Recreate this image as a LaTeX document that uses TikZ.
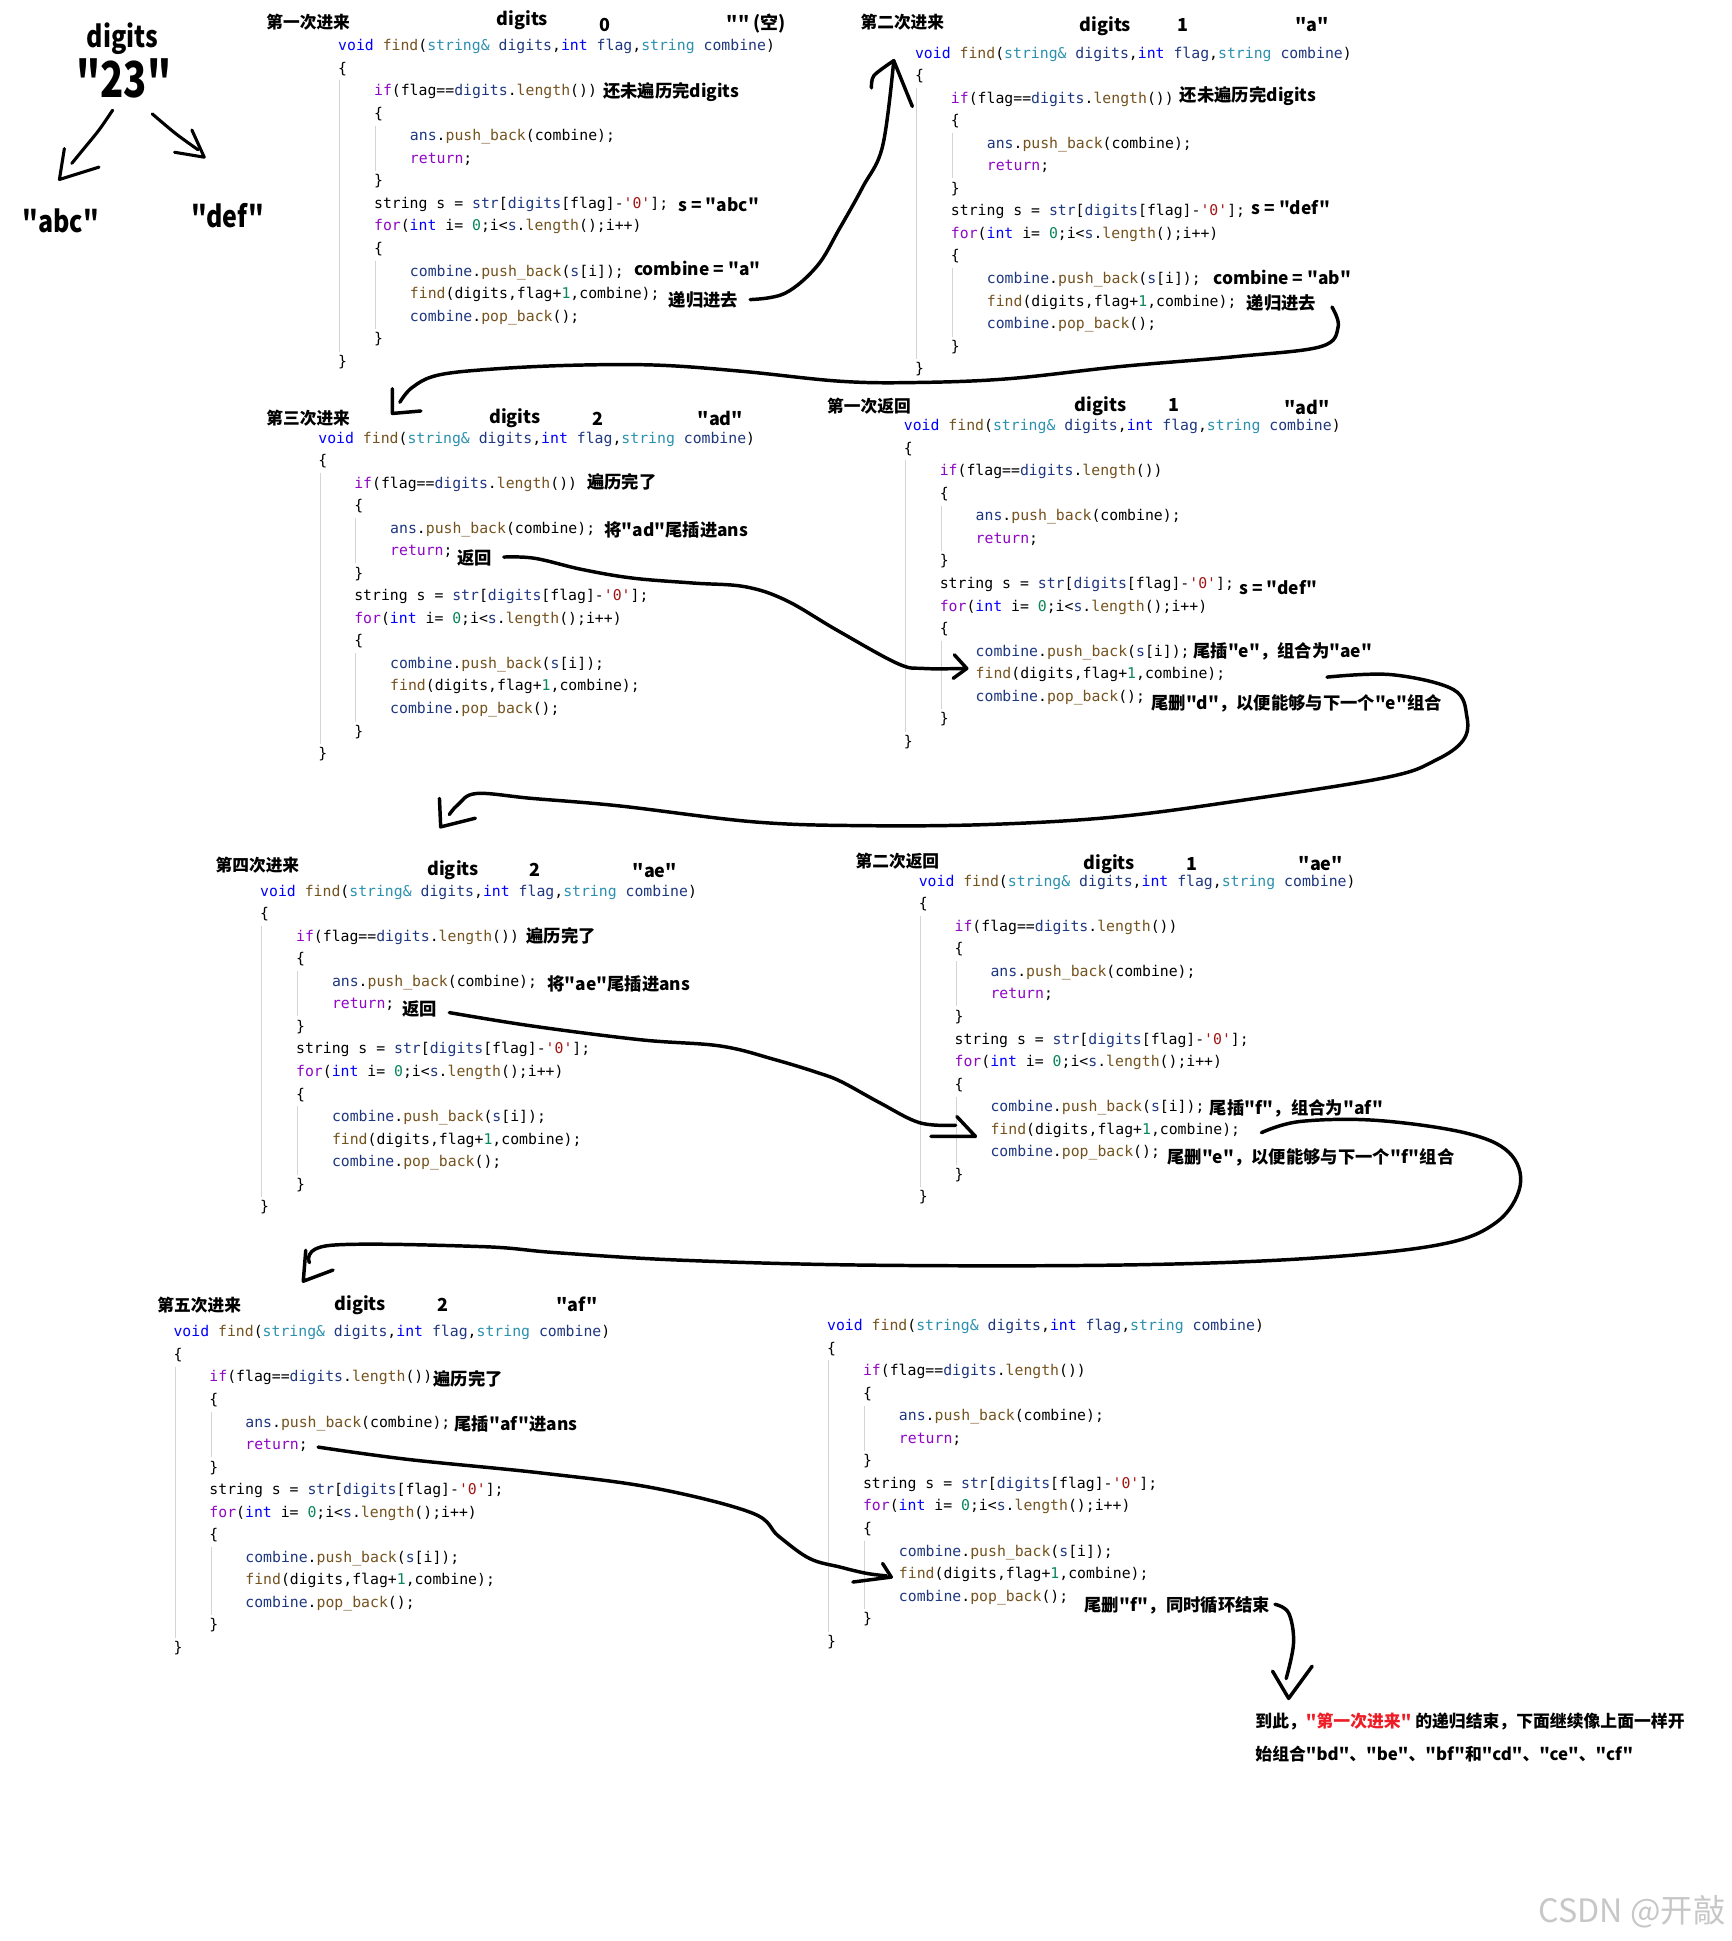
\documentclass[tikz,border=0pt]{standalone}
\usepackage{fontspec}
\setmonofont{DejaVu Sans Mono}[Ligatures=TeXOff]
\newfontfamily\cjk{Noto Sans CJK SC}[Ligatures=TeXOff]
\definecolor{kwcol}{HTML}{0000FF}
\definecolor{fncol}{HTML}{74531F}
\definecolor{tycol}{HTML}{2B91AF}
\definecolor{pmcol}{HTML}{1F377F}
\definecolor{ctcol}{HTML}{8F08C4}
\definecolor{nmcol}{HTML}{098658}
\definecolor{stcol}{HTML}{A31515}
\definecolor{redtxt}{HTML}{EE1C25}
\newcommand\cK[1]{\textcolor{kwcol}{#1}}
\newcommand\cF[1]{\textcolor{fncol}{#1}}
\newcommand\cT[1]{\textcolor{tycol}{#1}}
\newcommand\cP[1]{\textcolor{pmcol}{#1}}
\newcommand\cC[1]{\textcolor{ctcol}{#1}}
\newcommand\cN[1]{\textcolor{nmcol}{#1}}
\newcommand\cS[1]{\textcolor{stcol}{#1}}
\tikzset{
 code/.style={font=\ttfamily\fontsize{11.96}{14}\selectfont, inner sep=0pt, anchor=west, text height=8.5pt, text depth=2.5pt},
 ann/.style={font=\cjk\bfseries\fontsize{14}{16}\selectfont, inner sep=0pt, anchor=west},
 hdr/.style={font=\cjk\bfseries\fontsize{14.5}{17}\selectfont, inner sep=0pt},
 ttl/.style={font=\cjk\bfseries\fontsize{13.5}{16}\selectfont, inner sep=0pt, anchor=west},
 fin/.style={font=\cjk\bfseries\fontsize{13.6}{16}\selectfont, inner sep=0pt, anchor=west},
 bigtxt/.style={font=\cjk\bfseries\fontsize{24}{28}\selectfont, inner sep=0pt, xscale=0.84, transform shape},
 hand/.style={line width=2.8pt, line cap=round, line join=round},
 guide/.style={draw=black!17, line width=0.8pt},
}
\newcommand\codeblock[3]{%
 \node[code] (#3-0) at (#1,#2) {\cK{void} \cF{find}(\cT{string\&} \cP{digits},\cK{int} \cP{flag},\cT{string} \cP{combine})};
 \node[code] (#3-1) at (#1,{#2+18.2}) {\{};
 \node[code] (#3-2) at ({#1+29},{#2+36.4}) {\cC{if}(flag==\cP{digits}.\cF{length}())};
 \node[code] (#3-3) at ({#1+29},{#2+54.6}) {\{};
 \node[code] (#3-4) at ({#1+58},{#2+72.8}) {\cP{ans}.\cF{push\_back}(combine);};
 \node[code] (#3-5) at ({#1+58},{#2+91}) {\cC{return};};
 \node[code] (#3-6) at ({#1+29},{#2+109.2}) {\}};
 \node[code] (#3-7) at ({#1+29},{#2+127.4}) {string s = \cP{str}[\cP{digits}[flag]-\cS{'0'}];};
 \node[code] (#3-8) at ({#1+29},{#2+145.6}) {\cC{for}(\cK{int} i= \cN{0};i<\cP{s}.\cF{length}();i++)};
 \node[code] (#3-9) at ({#1+29},{#2+163.8}) {\{};
 \node[code] (#3-10) at ({#1+58},{#2+182}) {\cP{combine}.\cF{push\_back}(\cP{s}[i]);};
 \node[code] (#3-11) at ({#1+58},{#2+200.2}) {\cF{find}(digits,flag+\cN{1},combine);};
 \node[code] (#3-12) at ({#1+58},{#2+218.4}) {\cP{combine}.\cF{pop\_back}();};
 \node[code] (#3-13) at ({#1+29},{#2+236.6}) {\}};
 \node[code] (#3-14) at (#1,{#2+254.8}) {\}};
 \draw[guide] ({#1+1.5},{#2+27}) -- ({#1+1.5},{#2+246});
 \draw[guide] ({#1+30.5},{#2+63.6}) -- ({#1+30.5},{#2+100});
 \draw[guide] ({#1+30.5},{#2+172.8}) -- ({#1+30.5},{#2+228});
}
\begin{document}
\begin{tikzpicture}[x=1pt,y=-1pt]
\fill[white] (0,0) rectangle (1399,1568);
\useasboundingbox (0,0) rectangle (1399,1568);

% top-left
\node[bigtxt] (dg) at (99,31) {digits};
\node[bigtxt, font=\cjk\bfseries\fontsize{40}{44}\selectfont, xscale=0.92] (n23) at (100,63) {"23"};
\node[bigtxt] (abc) at (49,178) {"abc"};
\node[bigtxt] (def) at (184,174) {"def"};
\coordinate (la) at (91,89);
\coordinate (ra) at (123,92);
\draw[hand,line width=2.5pt] plot[smooth] coordinates {(la) (80,105) (67,121) (58,132)};
\draw[hand,line width=2.5pt] (52,120) -- (48,145) -- (80,135);
\draw[hand,line width=2.5pt] plot[smooth] coordinates {(ra) (142,108) (160,121)};
\draw[hand,line width=2.5pt] (155,105) -- (165,127) -- (141,123);

% block 1
\node[ttl] (t1) at (215,18) {第一次进来};
\node[hdr] (h1d) at (422,16) {digits};
\node[hdr] (h1f) at (489,20) {0};
\node[hdr] (h1c) at (611,19) {"" (空)};
\codeblock{273}{38}{b1}
\node[ann] (a1if) at (487,74) {还未遍历完digits};
\node[ann] (a1s) at (548,165) {s = "abc"};
\node[ann] (a1c) at (512,217) {combine = "a"};
\node[ann] (a1r) at (540,242) {递归进去};

% block 2
\node[ttl] (t2) at (695,18) {第二次进来};
\node[hdr] (h2d) at (893,21) {digits};
\node[hdr] (h2f) at (956,20) {1};
\node[hdr] (h2c) at (1060,20) {"a"};
\codeblock{739}{44}{b2}
\node[ann] (a2if) at (953,78) {还未遍历完digits};
\node[ann] (a2s) at (1011,168) {s = "def"};
\node[ann] (a2c) at (980,224) {combine = "ab"};
\node[ann] (a2r) at (1007,245) {递归进去};

% block 3
\node[ttl] (t3) at (215,338) {第三次进来};
\node[hdr] (h3d) at (416,338) {digits};
\node[hdr] (h3f) at (483,338) {2};
\node[hdr] (h3c) at (582,338) {"ad"};
\codeblock{257}{355}{b3}
\node[ann] (a3if) at (474,389) {遍历完了};
\node[ann] (a3p) at (488,428) {将"ad"尾插进ans};
\node[ann] (a3r) at (369,451) {返回};

% block 4
\node[ttl] (t4) at (668,328) {第一次返回};
\node[hdr] (h4d) at (889,328) {digits};
\node[hdr] (h4f) at (948,327) {1};
\node[hdr] (h4c) at (1056,329) {"ad"};
\codeblock{730}{345}{b4}
\node[ann] (a4s) at (1001,475) {s = "def"};
\node[ann] (a4p) at (964,526) {尾插"e"，组合为"ae"};
\node[ann] (a4d) at (930,568) {尾删"d"，以便能够与下一个"e"组合};

% block 5
\node[ttl] (t5) at (174,699) {第四次进来};
\node[hdr] (h5d) at (366,703) {digits};
\node[hdr] (h5f) at (432,703) {2};
\node[hdr] (h5c) at (529,703) {"ae"};
\codeblock{210}{721}{b5}
\node[ann] (a5if) at (425,756) {遍历完了};
\node[ann] (a5p) at (442,795) {将"ae"尾插进ans};
\node[ann] (a5r) at (325,815) {返回};

% block 6
\node[ttl] (t6) at (691,696) {第二次返回};
\node[hdr] (h6d) at (896,698) {digits};
\node[hdr] (h6f) at (963,698) {1};
\node[hdr] (h6c) at (1067,698) {"ae"};
\codeblock{742}{713}{b6}
\node[ann] (a6p) at (977,895) {尾插"f"，组合为"af"};
\node[ann] (a6d) at (943,935) {尾删"e"，以便能够与下一个"f"组合};

% block 7
\node[ttl] (t7) at (127,1054) {第五次进来};
\node[hdr] (h7d) at (291,1054) {digits};
\node[hdr] (h7f) at (358,1054) {2};
\node[hdr] (h7c) at (466,1054) {"af"};
\codeblock{140}{1077}{b7}
\node[ann] (a7if) at (350,1114) {遍历完了};
\node[ann] (a7p) at (367,1150) {尾插"af"进ans};

% block 8
\codeblock{668}{1072}{b8}
\node[ann] (a8d) at (876,1297) {尾删"f"，同时循环结束};

% final text
\node[fin] (f1) at (1014,1391) {到此，\textcolor{redtxt}{"第一次进来"} 的递归结束，下面继续像上面一样开};
\node[fin] (f2) at (1014,1417) {始组合"bd"、"be"、"bf"和"cd"、"ce"、"cf"};
\node[font=\cjk\fontsize{26}{30}\selectfont, text=black!22, inner sep=0pt, anchor=west] (wm) at (1243,1544) {CSDN @开敲};

% curves
\coordinate (cs1) at (606,242);
\coordinate (ct1) at (722,49);
\draw[hand] plot[smooth,tension=0.6] coordinates {(cs1) (634,237) (660,215) (678,185) (697,151) (713,118) (ct1)};
\draw[hand] plot[smooth] coordinates {(704,71) (706,61) (ct1)} -- (737,86);

\coordinate (cs2) at (1076,248);
\coordinate (ct2) at (317,334);
\draw[hand] plot[smooth,tension=0.6] coordinates {(cs2) (1081,264) (1067,280) (999,288) (906,296) (814,306) (740,309) (679,308) (600,300) (532,295) (465,295) (400,298) (354,303) (333,313) (323,325)};
\draw[hand] (317,314) -- (ct2) -- (340,332);

\coordinate (cs3) at (407,450);
\coordinate (ct3) at (781,540);
\draw[hand] plot[smooth,tension=0.6] coordinates {(cs3) (432,451) (470,460) (511,467) (560,471) (602,474) (635,485) (676,509) (725,536) (746,540) (778,540)};
\draw[hand] (771,529) -- (ct3) -- (770,548);

\coordinate (cs4) at (1072,547);
\coordinate (ct4) at (356,668);
\draw[hand] plot[smooth,tension=0.6] coordinates {(cs4) (1124,545) (1174,557) (1185,579) (1182,598) (1160,614) (1120,628) (1000,647) (900,660) (800,666) (700,667) (610,664) (500,651) (430,645) (385,641) (370,650) (363,658)};
\draw[hand] (355,645) -- (ct4) -- (384,661);

\coordinate (cs5) at (363,818);
\coordinate (ct5) at (788,918);
\draw[hand] plot[smooth,tension=0.6] coordinates {(cs5) (431,829) (518,840) (582,845) (626,856) (662,867) (680,874) (711,891) (743,907) (772,909)};
\draw[hand] (773,902) -- (ct5) -- (752,918);

\coordinate (cs6) at (1019,915);
\coordinate (ct6) at (245,1035);
\draw[hand] plot[smooth,tension=0.6] coordinates {(cs6) (1050,906) (1111,905) (1183,915) (1219,931) (1228,958) (1208,988) (1160,1006) (1050,1017) (900,1022) (700,1022) (550,1018) (450,1012) (388,1007) (267,1006) (250,1020)};
\draw[hand] (247,1010) -- (ct6) -- (269,1026);

\coordinate (cs7) at (257,1169);
\coordinate (ct7) at (720,1274);
\draw[hand] plot[smooth,tension=0.6] coordinates {(cs7) (330,1179) (438,1190) (528,1202) (607,1222) (629,1241) (654,1259) (679,1266) (700,1271) (716,1273)};
\draw[hand] (713,1263) -- (ct7) -- (689,1278);

\coordinate (cs8) at (1030,1296);
\coordinate (ct8) at (1041,1372);
\draw[hand] plot[smooth,tension=0.6] coordinates {(cs8) (1041,1303) (1045,1327) (1039,1356)};
\draw[hand] (1028,1350) -- (ct8) -- (1060,1346);
\end{tikzpicture}
\end{document}
